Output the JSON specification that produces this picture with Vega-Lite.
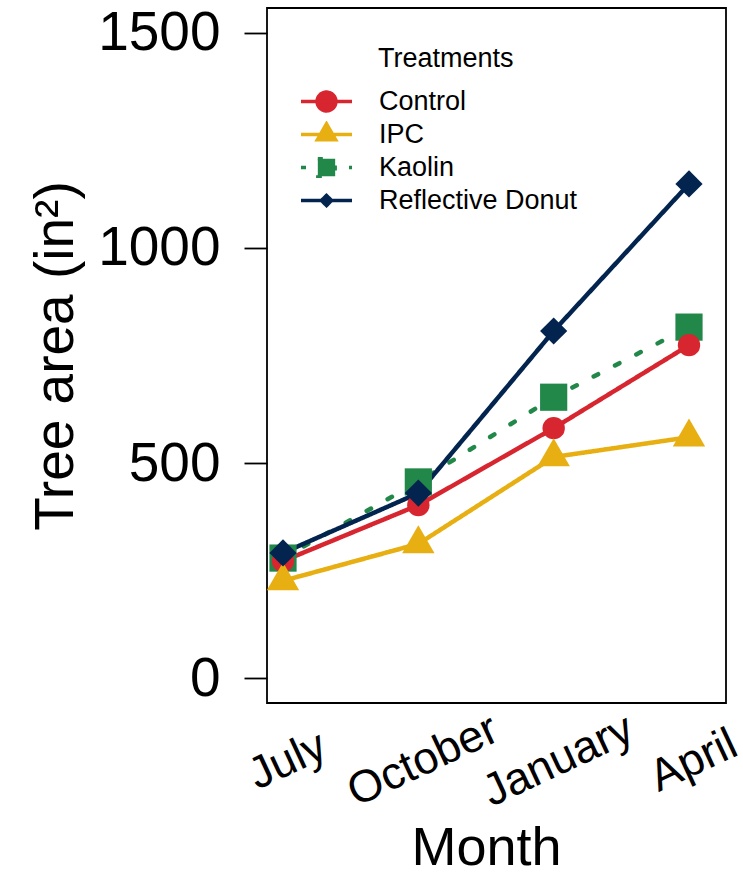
{
  "$schema": "https://vega.github.io/schema/vega-lite/v6.json",
  "width": 459,
  "height": 695,
  "autosize": {"type": "none"},
  "padding": {"left": 267, "top": 8, "right": 17, "bottom": 174},
  "background": "white",
  "config": {
    "view": {"stroke": "black", "strokeWidth": 1.8},
    "font": "Liberation Sans"
  },
  "data": {
    "values": [
      {"Treatment": "Kaolin", "Month": "July", "Area": 279},
      {"Treatment": "Kaolin", "Month": "October", "Area": 456},
      {"Treatment": "Kaolin", "Month": "January", "Area": 653},
      {"Treatment": "Kaolin", "Month": "April", "Area": 816},
      {"Treatment": "Control", "Month": "July", "Area": 272},
      {"Treatment": "Control", "Month": "October", "Area": 402},
      {"Treatment": "Control", "Month": "January", "Area": 581},
      {"Treatment": "Control", "Month": "April", "Area": 774},
      {"Treatment": "IPC", "Month": "July", "Area": 226},
      {"Treatment": "IPC", "Month": "October", "Area": 312},
      {"Treatment": "IPC", "Month": "January", "Area": 514},
      {"Treatment": "IPC", "Month": "April", "Area": 560},
      {"Treatment": "Reflective Donut", "Month": "July", "Area": 291},
      {"Treatment": "Reflective Donut", "Month": "October", "Area": 430},
      {"Treatment": "Reflective Donut", "Month": "January", "Area": 807},
      {"Treatment": "Reflective Donut", "Month": "April", "Area": 1149}
    ]
  },
  "encoding": {
    "x": {
      "field": "Month",
      "type": "ordinal",
      "sort": ["July", "October", "January", "April"],
      "scale": {"type": "point", "range": [16, 422], "padding": 0},
      "axis": {
        "domain": false,
        "grid": false,
        "ticks": false,
        "tickSize": 0,
        "labelAngle": -25,
        "labelAlign": "center",
        "labelBaseline": "middle",
        "labelPadding": 57,
        "labelOffset": 4,
        "labelFontSize": 45,
        "labelFont": "Liberation Sans",
        "labelColor": "black",
        "labelOverlap": false,
        "labelBound": false,
        "labelFlush": false,
        "title": "Month",
        "titleFont": "Liberation Sans",
        "titleFontSize": 54,
        "titleFontWeight": "normal",
        "titleColor": "black",
        "titleBaseline": "alphabetic",
        "titleY": 161
      }
    },
    "y": {
      "field": "Area",
      "type": "quantitative",
      "scale": {"domain": [-58, 1558], "nice": false, "zero": false},
      "axis": {
        "domain": false,
        "grid": false,
        "values": [0, 500, 1000, 1500],
        "format": "d",
        "tickSize": 23,
        "tickWidth": 1.8,
        "tickColor": "black",
        "labelFontSize": 55,
        "labelFont": "Liberation Sans",
        "labelPadding": 24,
        "labelColor": "black",
        "title": "Tree area (in²)",
        "titleFont": "Liberation Sans",
        "titleFontSize": 55,
        "titleFontWeight": "normal",
        "titleColor": "black",
        "titleX": -195,
        "titleY": 347.5,
        "titleBaseline": "alphabetic",
        "titleAngle": 270,
        "titleAlign": "center"
      }
    }
  },
  "layer": [
    {
      "mark": {"type": "line", "strokeWidth": 4.5, "strokeCap": "round"},
      "encoding": {
        "stroke": {
          "field": "Treatment",
          "type": "nominal",
          "scale": {
            "domain": ["Control", "IPC", "Kaolin", "Reflective Donut"],
            "range": ["#D7262F", "#E8AF12", "#22884A", "#03244F"]
          },
          "legend": {
            "orient": "none",
            "legendX": 32,
            "legendY": 38,
            "padding": 0,
            "title": "Treatments",
            "titleFont": "Liberation Sans",
            "titleFontSize": 27,
            "titleFontWeight": "normal",
            "titleColor": "black",
            "titlePadding": 15,
            "labelFont": "Liberation Sans",
            "labelFontSize": 27,
            "labelColor": "black",
            "labelOffset": 25,
            "labelLimit": 0,
            "symbolType": "stroke",
            "symbolSize": 2601,
            "symbolStrokeWidth": 3.5,
            "clipHeight": 27,
            "rowPadding": 5,
            "encode": {
              "title": {"update": {"dx": {"value": 79}}},
              "symbols": {
                "update": {
                  "shape": {"signal": "datum.value === 'Control' ? 'M-1,0L1,0M-0.37,0A0.37,0.37,0,1,1,0.37,0A0.37,0.37,0,1,1,-0.37,0Z' : datum.value === 'IPC' ? 'M-1,0L1,0M0,-0.42L0.36,0.21L-0.36,0.21Z' : datum.value === 'Kaolin' ? 'M-1,0L1,0M-0.34,-0.34L0.34,-0.34L0.34,0.34L-0.34,0.34Z' : 'M-1,0L1,0M-0.2,0L0,-0.2L0.2,0L0,0.2Z'"},
                  "fill": {"signal": "scale('stroke', datum.value)"},
                  "fillOpacity": {"value": 1},
                  "size": {"value": 2601},
                  "strokeWidth": {"value": 3.5}
                }
              }
            }
          }
        },
        "strokeDash": {
          "field": "Treatment",
          "type": "nominal",
          "scale": {
            "domain": ["Control", "IPC", "Kaolin", "Reflective Donut"],
            "range": [[1, 0], [1, 0], [5, 19], [1, 0]]
          }
        }
      }
    },
    {
      "mark": {"type": "point", "filled": true, "opacity": 1, "strokeWidth": 0},
      "encoding": {
        "fill": {
          "field": "Treatment",
          "type": "nominal",
          "scale": {"range": ["#D7262F", "#E8AF12", "#22884A", "#03244F"]},
          "legend": null
        },
        "shape": {
          "field": "Treatment",
          "type": "nominal",
          "scale": {"range": ["circle", "M0,-1.155L1,0.577L-1,0.577Z", "square", "diamond"]},
          "legend": null
        },
        "size": {
          "field": "Treatment",
          "type": "nominal",
          "scale": {"type": "ordinal", "range": [500, 1050, 740, 740]},
          "legend": null
        }
      }
    }
  ]
}
